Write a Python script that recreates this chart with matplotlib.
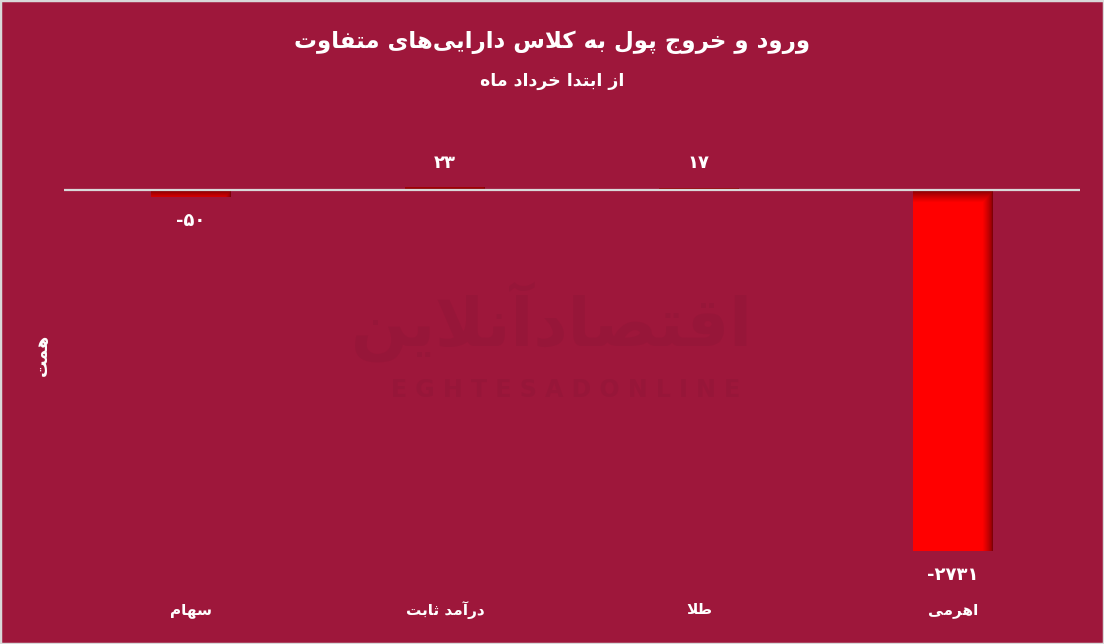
import numpy as np
import matplotlib
matplotlib.use("Agg")
import matplotlib.pyplot as plt
from matplotlib.patches import Rectangle

# ---------------- data ----------------
categories = ["سهام", "درآمد ثابت", "طلا", "اهرمی"]
values = [-50, 23, 17, -2731]
value_labels = ["-۵۰", "۲۳", "۱۷", "-۲۷۳۱"]
title = "ورود و خروج پول به کلاس دارایی‌های متفاوت"
subtitle = "از ابتدا خرداد ماه"
ylabel = "همت"

# ------------- minimal Arabic/Persian shaping (matplotlib has no CTL) -------------
FORMS = {
    'ا': ('\uFE8D', '\uFE8E', None, None),
    'آ': ('\uFE81', '\uFE82', None, None),
    'ب': ('\uFE8F', '\uFE90', '\uFE91', '\uFE92'),
    'پ': ('\uFB56', '\uFB57', '\uFB58', '\uFB59'),
    'ت': ('\uFE95', '\uFE96', '\uFE97', '\uFE98'),
    'ث': ('\uFE99', '\uFE9A', '\uFE9B', '\uFE9C'),
    'ج': ('\uFE9D', '\uFE9E', '\uFE9F', '\uFEA0'),
    'خ': ('\uFEA5', '\uFEA6', '\uFEA7', '\uFEA8'),
    'د': ('\uFEA9', '\uFEAA', None, None),
    'ر': ('\uFEAD', '\uFEAE', None, None),
    'ز': ('\uFEAF', '\uFEB0', None, None),
    'س': ('\uFEB1', '\uFEB2', '\uFEB3', '\uFEB4'),
    'ص': ('\uFEB9', '\uFEBA', '\uFEBB', '\uFEBC'),
    'ط': ('\uFEC1', '\uFEC2', '\uFEC3', '\uFEC4'),
    'ف': ('\uFED1', '\uFED2', '\uFED3', '\uFED4'),
    'ق': ('\uFED5', '\uFED6', '\uFED7', '\uFED8'),
    'ک': ('\uFB8E', '\uFB8F', '\uFB90', '\uFB91'),
    'ل': ('\uFEDD', '\uFEDE', '\uFEDF', '\uFEE0'),
    'م': ('\uFEE1', '\uFEE2', '\uFEE3', '\uFEE4'),
    'ن': ('\uFEE5', '\uFEE6', '\uFEE7', '\uFEE8'),
    'ه': ('\uFEE9', '\uFEEA', '\uFEEB', '\uFEEC'),
    'و': ('\uFEED', '\uFEEE', None, None),
    'ی': ('\uFBFC', '\uFBFD', '\uFBFE', '\uFBFF'),
}
LAMALEF = {'ا': ('\uFEFB', '\uFEFC'), 'آ': ('\uFEF5', '\uFEF6')}


def shape(text):
    ch = list(text)
    n = len(ch)
    out = []
    i = 0

    def dual(c):
        return c in FORMS and FORMS[c][2] is not None

    while i < n:
        c = ch[i]
        if c not in FORMS:
            if c != '\u200c':
                out.append(c)
            i += 1
            continue
        prev = ch[i - 1] if i > 0 else ''
        jp = dual(prev)
        if c == 'ل' and i + 1 < n and ch[i + 1] in LAMALEF:
            lig = LAMALEF[ch[i + 1]]
            out.append(lig[1] if jp else lig[0])
            i += 2
            continue
        nxt = ch[i + 1] if i + 1 < n else ''
        jn = dual(c) and nxt in FORMS
        iso, fin, ini, med = FORMS[c]
        if jp and jn:
            g = med
        elif jp:
            g = fin
        elif jn:
            g = ini
        else:
            g = iso
        out.append(g)
        i += 1
    return ''.join(reversed(out))


# ---------------- figure ----------------
W, H = 1104, 644
BG = "#9E173B"
fig = plt.figure(figsize=(W / 100, H / 100), dpi=100, facecolor=BG)
FONT = ['DejaVu Sans']

# axes placement in pixels
ax_l, ax_r, ax_t, ax_b = 64, 1080, 150, 565
ax = fig.add_axes([ax_l / W, 1 - ax_b / H, (ax_r - ax_l) / W, (ax_b - ax_t) / H])
ax.set_facecolor(BG)
zero_px = 190
px_per_unit = 361 / 2731.0
ymax = (zero_px - ax_t) / px_per_unit
ymin = -(ax_b - zero_px) / px_per_unit
ax.set_ylim(ymin, ymax)
ax.set_xlim(-0.5, len(categories) - 0.5)
for s in ax.spines.values():
    s.set_visible(False)
ax.set_xticks([])
ax.set_yticks([])

# watermark
WM = "#971639"
fig.text(0.50, 1 - 322 / H, shape("اقتصادآنلاین"), ha='center', va='center',
         fontsize=48, fontweight='bold', color=WM, family=FONT, zorder=0)
fig.text(0.512, 1 - 390 / H, "E G H T E S A D O N L I N E", ha='center', va='center',
         fontsize=17, fontweight='bold', color=WM, family=FONT, zorder=0)

# bars with gradient
bar_w = 80 / 254.0
bright = np.array([1.0, 0.0, 0.0])
dark = np.array([0.50, 0.0, 0.02])
x = np.arange(len(categories))
bars = ax.bar(x, values, width=bar_w, color="#FF0000", zorder=2)
for b, v in zip(bars, values):
    x0, x1 = b.get_x(), b.get_x() + b.get_width()
    y0, y1 = min(0, v), max(0, v)
    nx, ny = 80, max(int(abs(v) * px_per_unit), 2)
    xs = np.linspace(0, 80, nx)
    dist_right = 80 - xs
    fx = np.clip(dist_right / 10.0, 0, 1) ** 0.7
    ys = np.linspace(0, abs(v) * px_per_unit, ny)
    fy = np.clip(ys / 12.0, 0, 1) ** 0.8
    if v >= 0:
        fyr = fy
    else:
        fyr = fy[::-1]
    f = np.minimum(fyr[:, None], fx[None, :])
    img = dark[None, None, :] + (bright - dark)[None, None, :] * f[:, :, None]
    im = ax.imshow(img, extent=(x0, x1, y0, y1), origin='lower', aspect='auto',
                   interpolation='bilinear', zorder=3)
    im.set_clip_path(b)

# zero line
ax.axhline(0, color="#D9D9D9", lw=1.6, zorder=4)

# value labels
for xi, v, lab in zip(x, values, value_labels):
    if v >= 0:
        ax.annotate(lab, (xi, v), xytext=(0, 11), textcoords='offset points',
                    ha='center', va='bottom', color='white', fontsize=13,
                    fontweight='bold', family=FONT)
    else:
        ax.annotate(lab, (xi, v), xytext=(0, -11), textcoords='offset points',
                    ha='center', va='top', color='white', fontsize=13,
                    fontweight='bold', family=FONT)

# category labels
for xi, c in zip(x, categories):
    ax.annotate(shape(c), (xi, 0), xycoords=('data', 'axes fraction'),
                xytext=(0, -(610 - ax_b) * 0.72), textcoords='offset points',
                ha='center', va='center', color='white', fontsize=11,
                fontweight='bold', family=FONT, annotation_clip=False)

# y label
fig.text(42 / W, 1 - 355 / H, shape(ylabel), rotation=90, ha='center', va='center',
         color='white', fontsize=12.5, fontweight='bold', family=FONT)

# titles
fig.text(0.5, 1 - 42 / H, shape(title), ha='center', va='center', color='white',
         fontsize=16.5, fontweight='bold', family=FONT)
fig.text(0.5, 1 - 81 / H, shape(subtitle), ha='center', va='center', color='white',
         fontsize=12.5, fontweight='bold', family=FONT)

# border
fig.patches.append(Rectangle((0, 0), 1, 1, transform=fig.transFigure, fill=False,
                             edgecolor="#D9D9D9", lw=2.5, zorder=10))

fig.savefig("out.png", dpi=100, facecolor=BG)
